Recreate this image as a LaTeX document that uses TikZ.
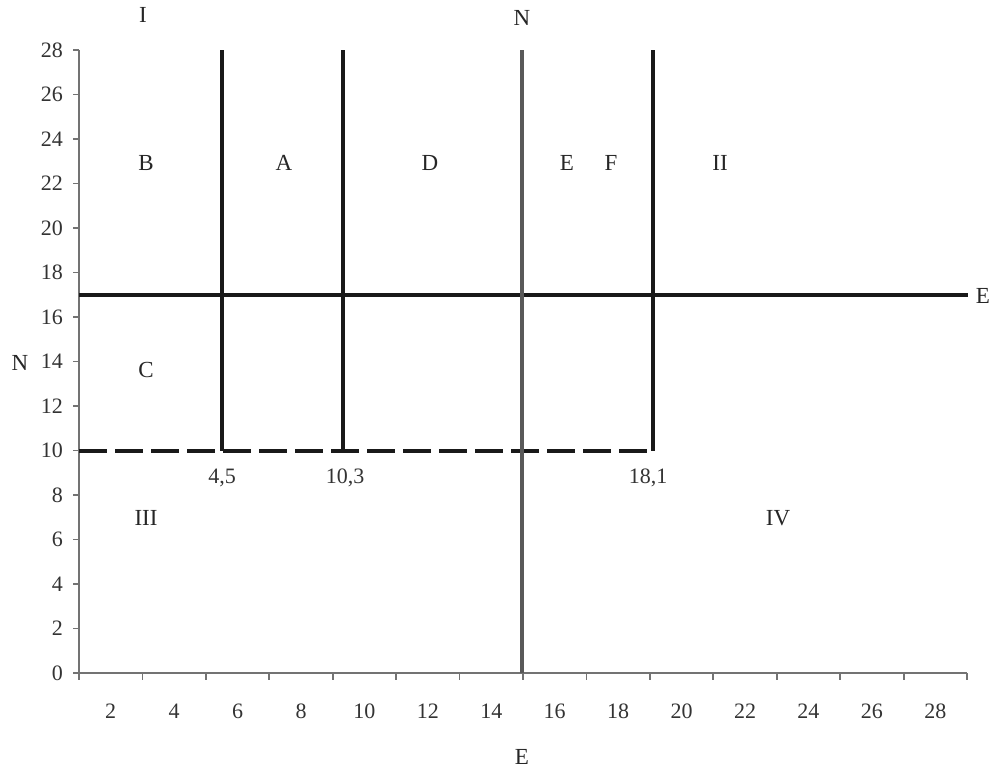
\documentclass[tikz,border=0pt]{standalone}
\usepackage{fontspec}
\setmainfont{Liberation Serif}
\begin{document}
\begin{tikzpicture}[x=1pt,y=-1pt,
  axisline/.style={draw=black!55, line width=2.2pt},
  tickline/.style={draw=black!55, line width=1.8pt},
  divider/.style={draw=black!90, line width=3.4pt},
  meridian/.style={draw=black!65, line width=3.8pt},
  boundary/.style={draw=black!90, line width=3.6pt, dash pattern=on 28pt off 8pt},
  lbl/.style={font=\fontsize{23}{26}\selectfont, text=black!85, inner sep=0pt},
  ticklbl/.style={font=\fontsize{22}{26}\selectfont, text=black!80, inner sep=0pt},
]
\useasboundingbox (0,0) rectangle (996,772);

% coordinates
\coordinate (o) at (79,673);
\coordinate (ytop) at (79,50);
\coordinate (xend) at (967,673);
\coordinate (h1) at (79,295);
\coordinate (h2) at (968,295);
\coordinate (a1) at (222,50);
\coordinate (a2) at (222,451);
\coordinate (b1) at (343,50);
\coordinate (b2) at (343,451);
\coordinate (n1) at (522,50);
\coordinate (n2) at (522,673);
\coordinate (c1) at (653,50);
\coordinate (c2) at (653,451);
\coordinate (d1) at (79,451);

% axes
\draw[axisline] (ytop) -- (o) -- (xend);
\foreach \i in {0,...,14}{
  \pgfmathsetmacro{\yy}{673-44.5*\i}
  \pgfmathtruncatemacro{\v}{2*\i}
  \coordinate (yt\i) at (73,\yy);
  \coordinate (ya\i) at (79,\yy);
  \draw[tickline] (yt\i) -- (ya\i);
  \node[ticklbl, anchor=east] (ylab\i) at (63,\yy) {\v};
}
\foreach \k in {0,...,14}{
  \pgfmathsetmacro{\xx}{79+63.43*\k}
  \coordinate (xa\k) at (\xx,673);
  \coordinate (xt\k) at (\xx,680);
  \draw[tickline] (xa\k) -- (xt\k);
}
\foreach \k in {0,...,13}{
  \pgfmathsetmacro{\xx}{79+63.43*(\k+0.5)}
  \pgfmathtruncatemacro{\v}{2*(\k+1)}
  \node[ticklbl] (xlab\k) at (\xx,711) {\v};
}

% zone lines
\draw[boundary] (d1) -- (c2);
\draw[divider] (h1) -- (h2);
\draw[divider] (a1) -- (a2);
\draw[divider] (b1) -- (b2);
\draw[divider] (c1) -- (c2);
\draw[meridian] (n1) -- (n2);

% labels
\node[lbl] (Ntop) at (522,18) {N};
\node[lbl] (Eright) at (983,296) {E};
\node[lbl] (Ebottom) at (522,757) {E};
\node[lbl] (Nleft) at (20,363) {N};
\node[lbl] (I) at (143,15) {I};
\node[lbl] (B) at (146,163) {B};
\node[lbl] (A) at (284,163) {A};
\node[lbl] (D) at (430,163) {D};
\node[lbl] (E) at (567,163) {E};
\node[lbl] (F) at (611,163) {F};
\node[lbl] (II) at (720,163) {II};
\node[lbl] (C) at (146,370) {C};
\node[lbl] (III) at (146,518) {III};
\node[lbl] (IV) at (778,518) {IV};
\node[ticklbl] (v45) at (222,478) {4,5};
\node[ticklbl] (v103) at (345,478) {10,3};
\node[ticklbl] (v181) at (648,478) {18,1};
\end{tikzpicture}
\end{document}
